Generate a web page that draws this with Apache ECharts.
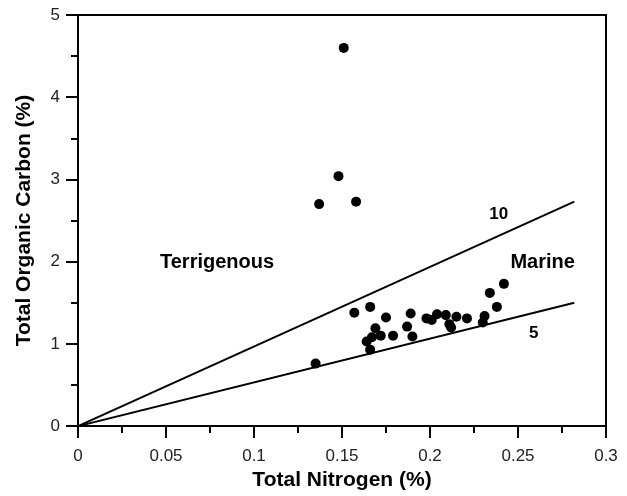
<!DOCTYPE html>
<html>
<head>
<meta charset="utf-8">
<script src="https://cdn.jsdelivr.net/npm/echarts@6/dist/echarts.min.js"></script>
<style>
  html, body { margin: 0; padding: 0; background: #fff; }
  #main { width: 627px; height: 496px; }
</style>
</head>
<body>
<div id="main"></div>
<script>
// samples: [total nitrogen %, total organic carbon %]
var samples = [
  [0.151, 4.60], [0.148, 3.04], [0.137, 2.70], [0.158, 2.73],
  [0.135, 0.76],
  [0.157, 1.38], [0.166, 1.45], [0.175, 1.32], [0.169, 1.19],
  [0.164, 1.03], [0.167, 1.08], [0.166, 0.93],
  [0.172, 1.10], [0.179, 1.10],
  [0.189, 1.37], [0.187, 1.21], [0.190, 1.09],
  [0.198, 1.31], [0.201, 1.29], [0.204, 1.36], [0.209, 1.35],
  [0.211, 1.24], [0.212, 1.20], [0.215, 1.33], [0.221, 1.31],
  [0.230, 1.26], [0.231, 1.34], [0.234, 1.62], [0.238, 1.45], [0.242, 1.73]
];
// reference C/N lines
var line10 = [[0, 0], [0.282, 2.73]];
var line5 = [[0, 0], [0.282, 1.50]];
var lineNames = ['10', '5'];
var lineLabelPos = [[0.239, 2.58], [0.259, 1.13]];
var regionNames = ['Terrigenous', 'Marine'];
var regionPos = [[0.079, 1.99], [0.264, 1.99]];
var xTicks = ['0', '0.05', '0.1', '0.15', '0.2', '0.25', '0.3'];
var yTicks = ['0', '1', '2', '3', '4', '5'];

var font = 'Liberation Sans, Arial, sans-serif';

function labelSeries(names, pos, size) {
  return {
    type: 'scatter',
    symbolSize: 0,
    silent: true,
    itemStyle: { opacity: 1 },
    data: pos.map(function (p, i) { return { value: p, name: names[i] }; }),
    label: {
      show: true, position: 'inside', formatter: '{b}',
      color: '#000', fontFamily: font, fontWeight: 'bold', fontSize: size
    },
    z: 5
  };
}

var chart = echarts.init(document.getElementById('main'));
chart.setOption({
  animation: false,
  backgroundColor: '#fff',
  grid: {
    left: 78, right: 21, top: 15, bottom: 64,
    show: true, borderColor: '#000', borderWidth: 2
  },
  xAxis: {
    type: 'value', min: 0, max: 0.3, interval: 0.05,
    name: 'Total Nitrogen (%)', nameLocation: 'middle', nameGap: 43,
    nameTextStyle: { fontFamily: font, fontWeight: 'bold', fontSize: 21, color: '#000' },
    axisLine: { show: true, onZero: false, lineStyle: { color: '#000', width: 2 } },
    axisTick: { show: true, inside: false, length: 12, lineStyle: { color: '#000', width: 2 } },
    minorTick: { show: true, splitNumber: 2, length: 7, lineStyle: { color: '#000', width: 2 } },
    axisLabel: {
      margin: 22, fontFamily: font, fontSize: 17, color: '#222',
      formatter: function (v) { return xTicks[Math.round(v / 0.05)]; }
    },
    splitLine: { show: false }
  },
  yAxis: {
    type: 'value', min: 0, max: 5, interval: 1,
    name: 'Total Organic Carbon (%)', nameLocation: 'middle', nameGap: 43,
    nameTextStyle: { fontFamily: font, fontWeight: 'bold', fontSize: 21, color: '#000' },
    axisLine: { show: true, onZero: false, lineStyle: { color: '#000', width: 2 } },
    axisTick: { show: true, inside: false, length: 12, lineStyle: { color: '#000', width: 2 } },
    minorTick: { show: true, splitNumber: 2, length: 7, lineStyle: { color: '#000', width: 2 } },
    axisLabel: {
      margin: 18, fontFamily: font, fontSize: 17, color: '#222',
      formatter: function (v) { return yTicks[Math.round(v)]; }
    },
    splitLine: { show: false }
  },
  series: [
    {
      type: 'line', data: line10, symbol: 'none', silent: true,
      lineStyle: { color: '#000', width: 2 }
    },
    {
      type: 'line', data: line5, symbol: 'none', silent: true,
      lineStyle: { color: '#000', width: 2 }
    },
    {
      type: 'scatter', data: samples, symbol: 'circle', symbolSize: 10,
      itemStyle: { color: '#000', opacity: 1 }, z: 4
    },
    labelSeries(lineNames, lineLabelPos, 17),
    labelSeries(regionNames, regionPos, 20)
  ]
});
</script>
</body>
</html>
